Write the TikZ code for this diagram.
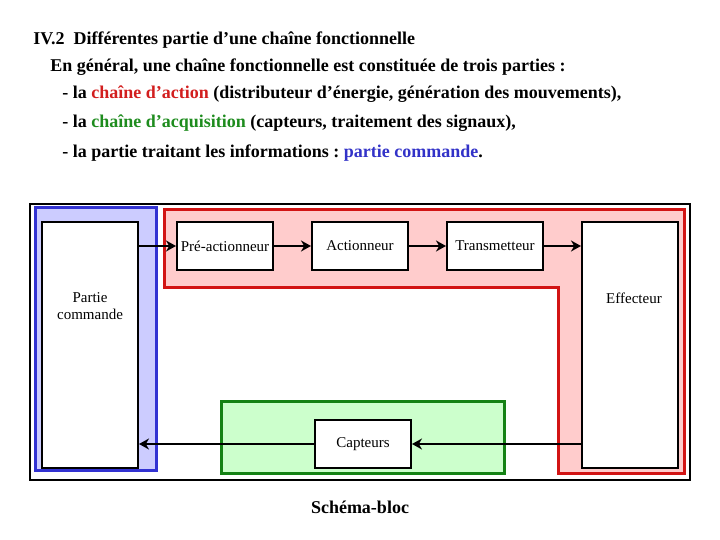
\documentclass[tikz,border=0pt]{standalone}
\usepackage{fontspec}
\setmainfont{Liberation Serif}
\usetikzlibrary{arrows.meta}
\frenchspacing
\definecolor{pinkfill}{RGB}{255,204,204}
\definecolor{bluefill}{RGB}{204,204,255}
\definecolor{greenfill}{RGB}{204,255,204}
\definecolor{redline}{RGB}{210,20,20}
\definecolor{blueline}{RGB}{50,50,210}
\definecolor{greenline}{RGB}{20,130,20}
\definecolor{redtxt}{RGB}{210,30,30}
\definecolor{greentxt}{RGB}{30,140,30}
\definecolor{bluetxt}{RGB}{50,50,200}
\tikzset{
  blk/.style={draw=black, line width=1pt, fill=white, minimum width=48pt, minimum height=24pt, inner sep=0pt, font=\fontsize{7.5}{9}\selectfont},
  tall/.style={blk, minimum height=123pt},
  txt/.style={anchor=base west, inner sep=0pt, font=\bfseries\fontsize{9}{10}\selectfont},
  lbl/.style={inner sep=0pt, align=center, font=\fontsize{7.5}{8.5}\selectfont},
  arr/.style={line width=1.4pt, -{Stealth[length=5pt,width=5.5pt]}},
  frame/.style={line width=1.5pt},
}
\begin{document}
\frenchspacing
\begin{tikzpicture}[x=0.5pt,y=-0.5pt]
\useasboundingbox (0,0) rectangle (720,540);
% text
\node[txt] (t1) at (33,45) {IV.2\ \ Différentes partie d’une chaîne fonctionnelle};
\node[txt] (t2) at (50,72) {En général, une chaîne fonctionnelle est constituée de trois parties :};
\node[txt] (t3) at (62,99) {- la \textcolor{redtxt}{chaîne d’action} (distributeur d’énergie, génération des mouvements),};
\node[txt] (t4) at (62,128) {- la \textcolor{greentxt}{chaîne d’acquisition} (capteurs, traitement des signaux),};
\node[txt] (t5) at (62,158) {- la partie traitant les informations : \textcolor{bluetxt}{partie commande}.};
% outer frame
\draw[line width=1pt] (30,204) rectangle (690,480);
% colored zones
\draw[frame, draw=blueline, fill=bluefill] (36,208) rectangle (157,471);
\draw[frame, draw=redline, fill=pinkfill] (165,210) -- (685,210) -- (685,474) -- (559,474) -- (559,288) -- (165,288) -- cycle;
\draw[frame, draw=greenline, fill=greenfill] (222,402) rectangle (505,474);
% blocks
\node[tall] (pc) at (90,345) {};
\node[lbl] (pcl) at (90,306) {Partie\\commande};
\node[blk] (pre) at (225,246) {Pré-actionneur};
\node[blk] (act) at (360,246) {Actionneur};
\node[blk] (tra) at (495,246) {\raisebox{-1pt}{Transmetteur}};
\node[tall] (eff) at (630,345) {};
\node[lbl] (effl) at (634,298) {Effecteur};
\node[blk] (cap) at (363,444) {Capteurs};
% connectors
\draw[arr] (pc.east |- pre.west) -- (pre.west);
\draw[arr] (pre) -- (act);
\draw[arr] (act) -- (tra);
\draw[arr] (tra.east) -- (eff.west |- tra.east);
\draw[arr] (eff.west |- cap.east) -- (cap.east);
\draw[arr] (cap.west) -- (pc.east |- cap.west);
\node[font=\bfseries\fontsize{9}{10}\selectfont] (title) at (360,507) {Schéma-bloc};
\end{tikzpicture}
\end{document}
